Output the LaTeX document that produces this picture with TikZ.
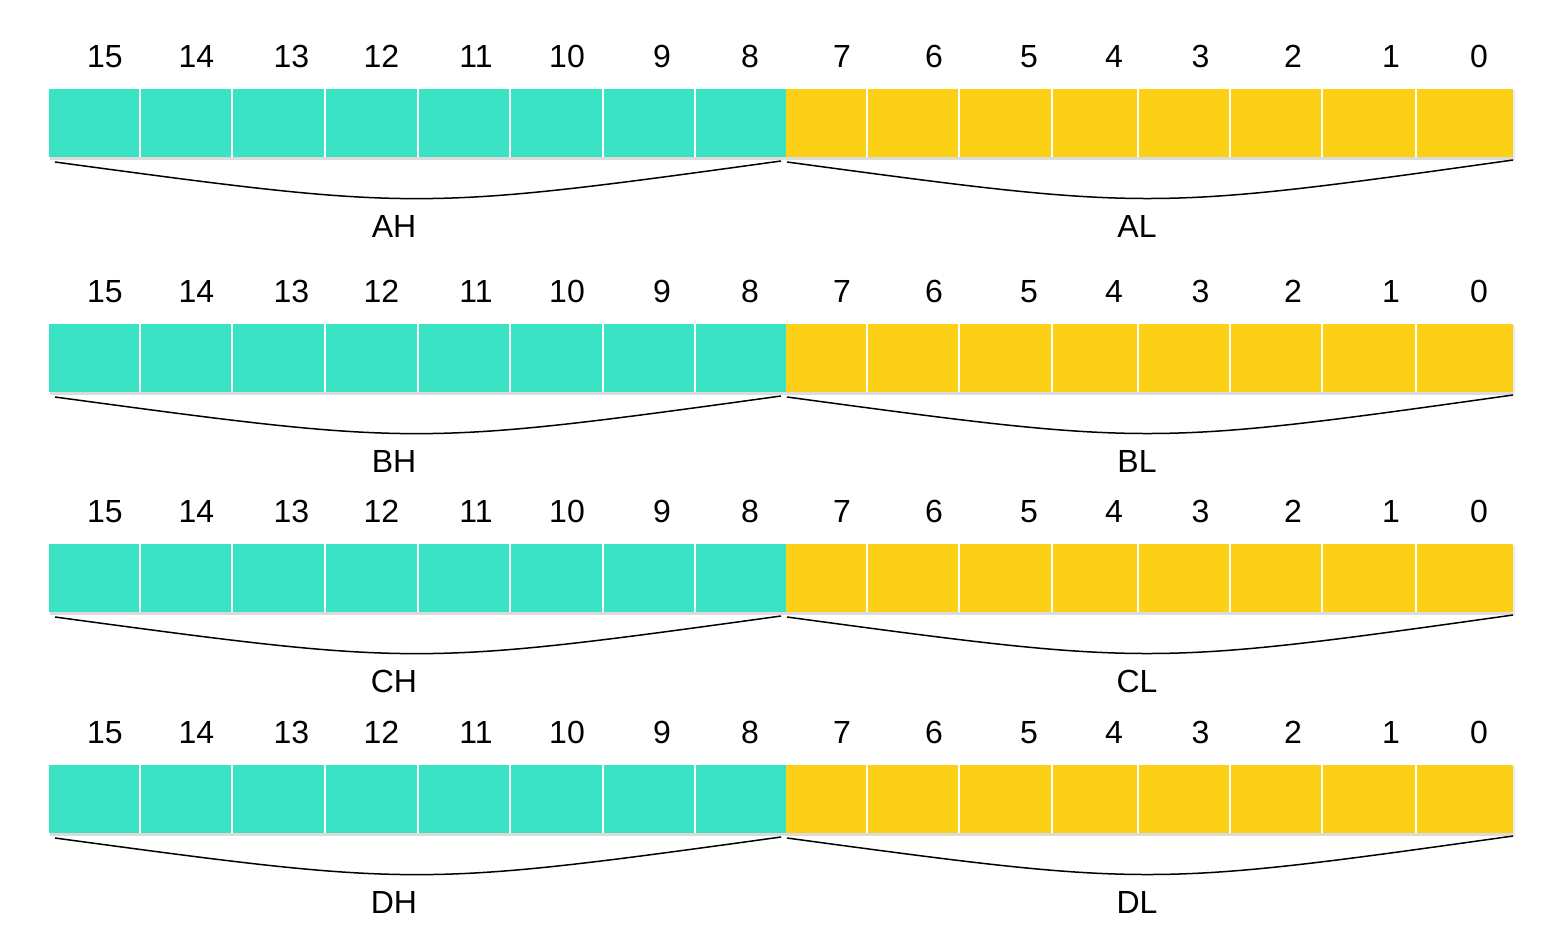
\documentclass[tikz,border=0pt]{standalone}
\usepackage{fontspec}
\setmainfont{Liberation Sans}
\definecolor{tealc}{RGB}{59,227,197}
\definecolor{yelc}{RGB}{251,208,22}
\tikzset{
  cell/.style={inner sep=0pt, outer sep=0pt, anchor=north west, minimum height=68pt},
  divider/.style={white, line width=1.4pt},
  bitnum/.style={font=\fontsize{32}{32}\selectfont, inner sep=0pt, anchor=base},
  reglabel/.style={font=\fontsize{32}{32}\selectfont, inner sep=0pt, anchor=base},
  brace/.style={black, line width=1.5pt},
  shadowbar/.style={fill=black!14}
}
\begin{document}
\begin{tikzpicture}[x=1pt,y=-1pt]
\useasboundingbox (0,0) rectangle (1558,938);
\foreach \n/\dy in {A/0,B/235,C/455,D/676}{
  % soft shadow under the register
  \fill[shadowbar] (50,157+\dy) rectangle (1514.5,159.5+\dy);
  \fill[black!8] (1513,90+\dy) rectangle (1514.5,159+\dy);
  % cells
  \foreach \l/\r/\b/\lx [count=\i] in {49/140/15/105,140/232/14/196.5,232/325/13/291.5,325/418/12/381.5,418/510/11/476,510/603/10/567,603/695/9/662,695/786/8/750,786/867/7/842,867/959/6/934,959/1052/5/1029,1052/1138/4/1114,1138/1230/3/1200.5,1230/1322/2/1293,1322/1416/1/1391,1416/1513/0/1479}{
    \ifnum\i<9 \def\cc{tealc}\else\def\cc{yelc}\fi
    \node[cell, fill=\cc, minimum width={\r-\l}] (c\n\b) at (\l,89+\dy) {};
    \node[bitnum] (n\n\b) at (\lx,67+\dy) {\b};
  }
  % white dividers
  \foreach \b in {14,13,12,11,10,9,8,6,5,4,3,2,1,0}{
    \draw[divider] (c\n\b.north west) -- (c\n\b.south west);
  }
  % braces
  \coordinate (hs\n) at (55,162+\dy);
  \coordinate (he\n) at (781,161+\dy);
  \coordinate (ls\n) at (787,162+\dy);
  \coordinate (le\n) at (1513,160+\dy);
  \node[reglabel] (\n H) at (394,237+\dy) {\n H};
  \node[reglabel] (\n L) at (1137,237+\dy) {\n L};
  \draw[brace] (hs\n) .. controls (418,211+\dy) .. (he\n);
  \draw[brace] (ls\n) .. controls (1150,211+\dy) .. (le\n);
}
\end{tikzpicture}
\end{document}
